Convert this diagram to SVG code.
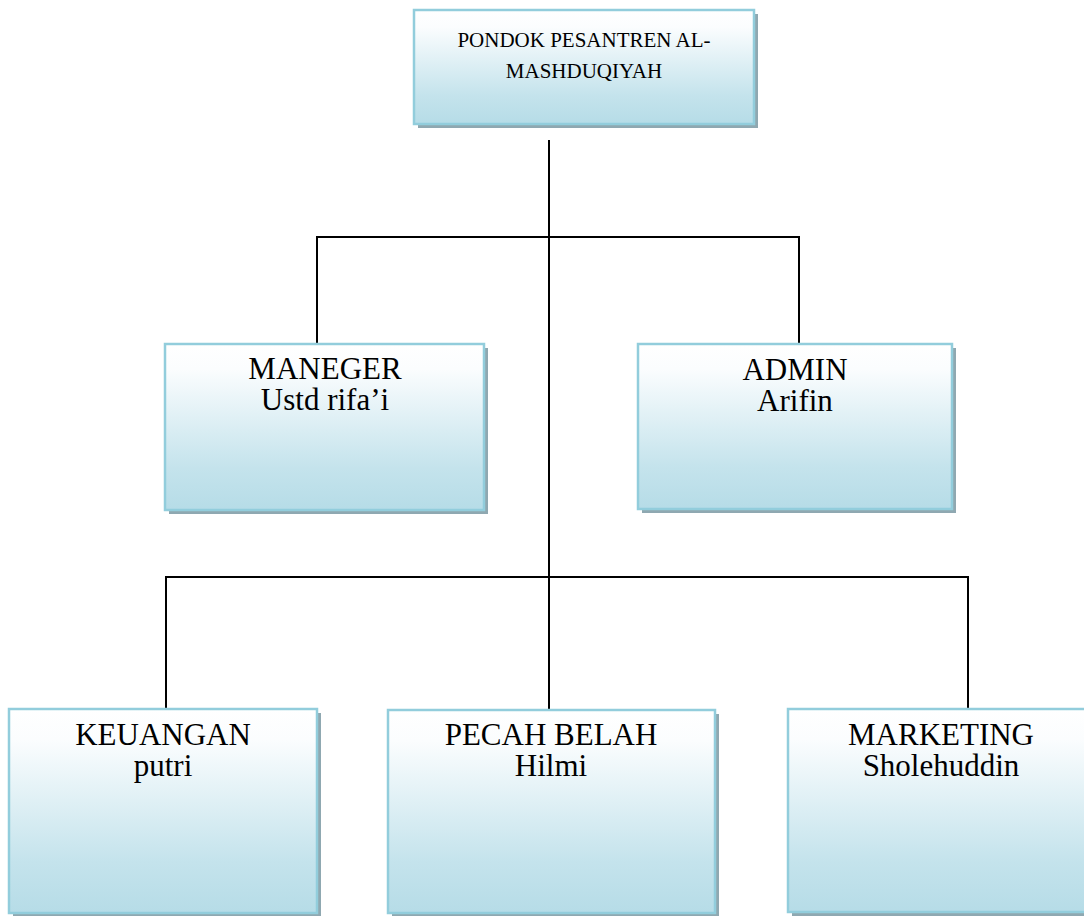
<svg xmlns="http://www.w3.org/2000/svg" width="1084" height="916" viewBox="0 0 1084 916">
<defs>
<linearGradient id="g" x1="0" y1="0" x2="0" y2="1">
<stop offset="0" stop-color="#ffffff"/>
<stop offset="0.15" stop-color="#fbfdfe"/>
<stop offset="0.75" stop-color="#c4e3ec"/>
<stop offset="1" stop-color="#b6dce7"/>
</linearGradient>
</defs>
<style>
.sh{fill:#8fa8b1}
.bx{fill:url(#g);stroke:#92cddc;stroke-width:2.5}
.t{font-family:"Liberation Serif","Times New Roman",serif;fill:#000;text-anchor:middle}
.big{font-size:31px}
.sm{font-size:21px}
.ln{stroke:#000;stroke-width:2;fill:none}
</style>
<g id="connectors">
<line class="ln" x1="549" y1="140" x2="549" y2="710"/>
<polyline class="ln" points="317,344 317,237 799,237 799,344"/>
<polyline class="ln" points="166,709 166,577 968,577 968,709"/>
</g>
<g id="top">
<rect class="sh" x="418" y="14" width="340" height="114"/>
<rect class="bx" x="414" y="10" width="340" height="114"/>
<text class="t sm" x="584" y="47">PONDOK PESANTREN AL-</text>
<text class="t sm" x="584" y="78">MASHDUQIYAH</text>
</g>
<g id="maneger">
<rect class="sh" x="169" y="348" width="319" height="166"/>
<rect class="bx" x="165" y="344" width="319" height="166"/>
<text class="t big" x="325" y="379">MANEGER</text>
<text class="t big" x="325" y="410">Ustd rifa’i</text>
</g>
<g id="admin">
<rect class="sh" x="642" y="348" width="314" height="165"/>
<rect class="bx" x="638" y="344" width="314" height="165"/>
<text class="t big" x="795" y="380">ADMIN</text>
<text class="t big" x="795" y="411">Arifin</text>
</g>
<g id="keuangan">
<rect class="sh" x="13" y="713" width="308" height="204"/>
<rect class="bx" x="9" y="709" width="308" height="204"/>
<text class="t big" x="163" y="745">KEUANGAN</text>
<text class="t big" x="163" y="776">putri</text>
</g>
<g id="pecah">
<rect class="sh" x="392" y="714" width="327" height="204"/>
<rect class="bx" x="388" y="710" width="327" height="203"/>
<text class="t big" x="551" y="745">PECAH BELAH</text>
<text class="t big" x="551" y="776">Hilmi</text>
</g>
<g id="marketing">
<rect class="sh" x="792" y="713" width="306" height="204"/>
<rect class="bx" x="788" y="709" width="306" height="203"/>
<text class="t big" x="941" y="745">MARKETING</text>
<text class="t big" x="941" y="776">Sholehuddin</text>
</g>
</svg>
